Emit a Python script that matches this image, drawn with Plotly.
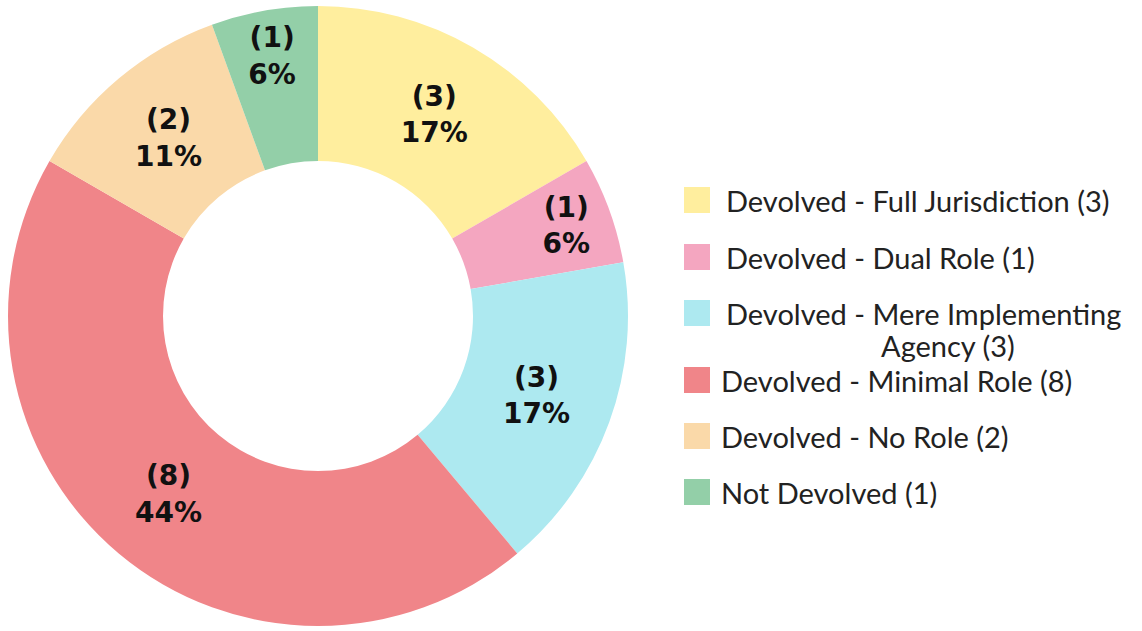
import plotly.graph_objects as go

W, H = 1142, 631

categories = [
    "Devolved - Full Jurisdiction",
    "Devolved - Dual Role",
    "Devolved - Mere Implementing Agency",
    "Devolved - Minimal Role",
    "Devolved - No Role",
    "Not Devolved",
]
legend_labels = [
    "Devolved - Full Jurisdiction (3)",
    "Devolved - Dual Role (1)",
    "Devolved - Mere Implementing<br>Agency (3)",
    "Devolved - Minimal Role (8)",
    "Devolved - No Role (2)",
    "Not Devolved (1)",
]
values = [3, 1, 3, 8, 2, 1]
colors = ["#FFEE9E", "#F4A6C0", "#ADE9F0", "#F08589", "#FAD9A9", "#93CFA8"]

fig = go.Figure()
fig.add_trace(go.Pie(
    labels=categories,
    values=values,
    sort=False,
    direction="clockwise",
    rotation=0,
    hole=0.5,
    marker=dict(colors=colors, line=dict(width=0)),
    texttemplate="(%{value})<br>%{percent:.0%}",
    textposition="inside",
    insidetextorientation="horizontal",
    textfont=dict(family="DejaVu Sans", size=28, color="#111111", weight="bold"),
    domain=dict(x=[8 / W, 628 / W], y=[1 - 626 / H, 1 - 6 / H]),
    showlegend=False,
))

# custom legend
swatch_centers = [200, 257, 313, 380, 436, 492]
text_x = [724, 724, 724, 719, 719, 719]
shapes = []
annotations = []
for i, lab in enumerate(legend_labels):
    cy = swatch_centers[i]
    shapes.append(dict(
        type="rect", xref="paper", yref="paper",
        x0=684 / W, x1=710 / W, y0=1 - (cy + 13) / H, y1=1 - (cy - 13) / H,
        fillcolor=colors[i], line=dict(width=0),
    ))
    lines = lab.split("<br>")
    for j, line in enumerate(lines):
        lx = text_x[i] if j == 0 else 879
        ly = cy + 32 * j
        annotations.append(dict(
            xref="paper", yref="paper",
            x=lx / W, y=1 - ly / H,
            xanchor="left", yanchor="middle",
            text=line, showarrow=False,
            font=dict(family="Lato", size=29, color="#222222"),
        ))

fig.update_layout(
    width=W, height=H,
    margin=dict(l=0, r=0, t=0, b=0),
    paper_bgcolor="white",
    plot_bgcolor="white",
    shapes=shapes,
    annotations=annotations,
)

fig.write_html("out.html", config={"displayModeBar": False},
               post_script="document.body.style.margin='0';")
